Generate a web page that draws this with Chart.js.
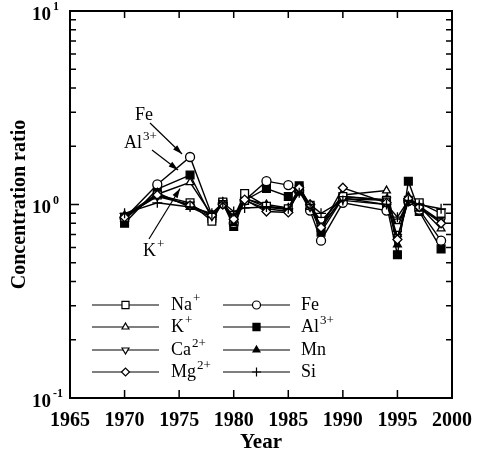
<!DOCTYPE html>
<html>
<head>
<meta charset="utf-8">
<script src="https://cdn.jsdelivr.net/npm/chart.js@4.4.1/dist/chart.umd.min.js"></script>
<style>
  html, body { margin: 0; padding: 0; background: #fff; }
  #wrap { width: 478px; height: 455px; }
</style>
</head>
<body>
<div id="wrap"><canvas id="chart" width="478" height="455"></canvas></div>
<script>
// sampling years
const years = [1970, 1973, 1976, 1978, 1979, 1980, 1981, 1983, 1985, 1986, 1987, 1988, 1990, 1994, 1995, 1996, 1997, 1999];

// concentration ratios
const na = [0.86, 1.12, 1.02, 0.82, 1.03, 0.85, 1.14, 0.98, 0.95, 1.20, 0.99, 0.82, 1.10, 1.05, 0.76, 1.05, 1.02, 0.90];
const k  = [0.88, 1.13, 1.30, 0.88, 1.02, 0.86, 1.08, 0.97, 0.94, 1.20, 0.98, 0.80, 1.12, 1.18, 0.70, 1.05, 0.98, 0.75];
const ca = [0.87, 1.10, 1.00, 0.87, 1.02, 0.84, 1.05, 0.95, 0.92, 1.18, 0.97, 0.78, 1.07, 1.05, 0.68, 1.04, 0.98, 0.82];
const mg = [0.86, 1.12, 0.99, 0.88, 1.00, 0.84, 1.06, 0.92, 0.91, 1.22, 1.00, 0.76, 1.22, 1.02, 0.66, 1.07, 0.97, 0.80];
const fe = [0.85, 1.27, 1.76, 0.88, 1.01, 0.80, 1.05, 1.32, 1.26, 1.18, 0.93, 0.65, 1.02, 0.93, 0.80, 1.04, 0.94, 0.65];
const al = [0.80, 1.20, 1.42, 0.85, 1.02, 0.77, 1.05, 1.21, 1.10, 1.25, 0.97, 0.72, 1.08, 1.00, 0.55, 1.32, 0.92, 0.59];
const mn = [0.84, 1.15, 0.97, 0.86, 1.03, 0.80, 1.07, 1.00, 0.96, 1.22, 0.98, 0.75, 1.10, 1.06, 0.62, 1.10, 0.95, 0.82];
const si = [0.90, 1.02, 0.97, 0.90, 1.02, 0.92, 0.96, 0.97, 0.95, 1.15, 1.00, 0.90, 1.05, 1.00, 0.86, 1.05, 1.00, 0.95];

// axis ticks
const xTicks = [1965, 1970, 1975, 1980, 1985, 1990, 1995, 2000];
const yDecades = [0.1, 1, 10];
const yExponents = ['-1', '0', '1'];

// legend names (base text + superscript)
const names = [['Na', '+'], ['K', '+'], ['Ca', '2+'], ['Mg', '2+'], ['Fe', ''], ['Al', '3+'], ['Mn', ''], ['Si', '']];

const SERIF = '"Liberation Serif", "DejaVu Serif", serif';

function series(values, style, filled, radius, rotation) {
    return {
        data: years.map((y, i) => ({ x: y, y: values[i] })),
        borderColor: '#000',
        borderWidth: 1.4,
        pointStyle: style,
        pointRadius: radius,
        pointRotation: rotation || 0,
        pointBackgroundColor: filled ? '#000' : '#fff',
        pointBorderColor: '#000',
        pointBorderWidth: 1.3,
        fill: false,
        tension: 0
    };
}

// order: Si first so the markers of others sit on top
const datasets = [
    series(si, 'cross', false, 5),
    series(mg, 'rectRot', false, 4.5),
    series(ca, 'triangle', false, 4.5, 180),
    series(na, 'rect', false, 5.5),
    series(k, 'triangle', false, 4.5),
    series(mn, 'triangle', true, 4.5),
    series(fe, 'circle', false, 4.5),
    series(al, 'rect', true, 5.5)
];
// legend order follows names
const legendSets = [datasets[3], datasets[4], datasets[2], datasets[1], datasets[6], datasets[7], datasets[5], datasets[0]];

// text with a superscript
function supText(ctx, x, y, base, sup, size, bold) {
    const w = bold ? 'bold ' : '';
    ctx.font = w + size + 'px ' + SERIF;
    ctx.textAlign = 'left';
    ctx.textBaseline = 'middle';
    ctx.fillText(base, x, y);
    const bw = ctx.measureText(base).width;
    if (sup) {
        ctx.font = w + Math.round(size * 0.7) + 'px ' + SERIF;
        ctx.fillText(sup, x + bw + 1, y - size * 0.38);
    }
}

function arrow(ctx, x1, y1, x2, y2) {
    const a = Math.atan2(y2 - y1, x2 - x1);
    ctx.beginPath();
    ctx.moveTo(x1, y1);
    ctx.lineTo(x2, y2);
    ctx.stroke();
    ctx.beginPath();
    ctx.moveTo(x2, y2);
    ctx.lineTo(x2 - 10 * Math.cos(a - 0.3), y2 - 10 * Math.sin(a - 0.3));
    ctx.lineTo(x2 - 10 * Math.cos(a + 0.3), y2 - 10 * Math.sin(a + 0.3));
    ctx.closePath();
    ctx.fill();
}

const framePlugin = {
    id: 'frame',
    afterDatasetsDraw(chart) {
        const ctx = chart.ctx;
        const { left, right, top, bottom } = chart.chartArea;
        const xs = chart.scales.x, ys = chart.scales.y;
        ctx.save();
        ctx.strokeStyle = '#000';
        ctx.fillStyle = '#000';

        // box
        ctx.lineWidth = 2;
        ctx.strokeRect(left, top, right - left, bottom - top);

        // x ticks, inward on top and bottom
        ctx.lineWidth = 1.5;
        xTicks.forEach(t => {
            const px = xs.getPixelForValue(t);
            if (px <= left + 1 || px >= right - 1) return;
            ctx.beginPath();
            ctx.moveTo(px, bottom); ctx.lineTo(px, bottom - 8);
            ctx.moveTo(px, top); ctx.lineTo(px, top + 7);
            ctx.stroke();
        });

        // y ticks, log minor ticks inward on both sides
        for (let d = 0; d < yDecades.length - 1; d++) {
            for (let m = 1; m < 10; m++) {
                const py = ys.getPixelForValue(yDecades[d] * m);
                const len = m === 1 ? 9 : 6;
                ctx.beginPath();
                ctx.moveTo(left, py); ctx.lineTo(left + len, py);
                ctx.moveTo(right, py); ctx.lineTo(right - len, py);
                ctx.stroke();
            }
        }

        // x tick labels
        ctx.font = 'bold 20px ' + SERIF;
        ctx.textAlign = 'center';
        ctx.textBaseline = 'middle';
        xTicks.forEach(t => ctx.fillText(String(t), xs.getPixelForValue(t), 421));

        // y tick labels 10^n
        yDecades.forEach((v, i) => {
            const py = ys.getPixelForValue(v);
            ctx.font = 'bold 19px ' + SERIF;
            ctx.textAlign = 'right';
            ctx.textBaseline = 'middle';
            ctx.fillText('10', 51, py + 4);
            ctx.font = 'bold 12px ' + SERIF;
            ctx.textAlign = 'left';
            ctx.fillText(yExponents[i], 53, py - 4);
        });

        // legend
        const rows = [305, 327, 350, 372];
        const cols = [{ x1: 92, x2: 159, tx: 171 }, { x1: 223, x2: 290, tx: 301 }];
        legendSets.forEach((ds, i) => {
            const c = cols[Math.floor(i / 4)];
            const y = rows[i % 4];
            ctx.lineWidth = 1.2;
            ctx.beginPath();
            ctx.moveTo(c.x1, y); ctx.lineTo(c.x2, y);
            ctx.stroke();
            ctx.fillStyle = ds.pointBackgroundColor;
            ctx.strokeStyle = '#000';
            Chart.helpers.drawPoint(ctx, {
                pointStyle: ds.pointStyle,
                radius: ds.pointRadius - 0.5,
                rotation: ds.pointRotation,
                borderWidth: 1.2
            }, (c.x1 + c.x2) / 2, y);
            ctx.fillStyle = '#000';
            supText(ctx, c.tx, y, names[i][0], names[i][1], 18, false);
        });

        // annotations with arrows to the 1976 points
        const px76 = xs.getPixelForValue(1976);
        const yFe = ys.getPixelForValue(fe[2]);
        const yAl = ys.getPixelForValue(al[2]);
        const yK = ys.getPixelForValue(k[2]);
        ctx.fillStyle = '#000';
        supText(ctx, 135, 115, 'Fe', '', 18, false);
        supText(ctx, 124, 143, 'Al', '3+', 18, false);
        supText(ctx, 143, 251, 'K', '+', 18, false);
        ctx.lineWidth = 1.2;
        arrow(ctx, 150, 123, px76 - 8, yFe - 3);
        arrow(ctx, 152, 150, px76 - 12, yAl - 5);
        arrow(ctx, 149, 239, px76 - 10, yK + 6);
        ctx.restore();
    }
};

new Chart(document.getElementById('chart'), {
    type: 'line',
    data: { datasets: datasets },
    options: {
        responsive: false,
        animation: false,
        layout: { padding: { top: 11, right: 26, left: 0, bottom: 0 } },
        scales: {
            x: {
                type: 'linear',
                min: 1965,
                max: 2000,
                grid: { display: false },
                border: { display: false },
                ticks: { display: false },
                title: {
                    display: true,
                    text: 'Year',
                    color: '#000',
                    font: { family: SERIF, size: 21, weight: 'bold' },
                    padding: { top: 0, bottom: 0 }
                },
                afterFit(scale) { scale.height = 57; }
            },
            y: {
                type: 'logarithmic',
                min: 0.1,
                max: 10,
                grid: { display: false },
                border: { display: false },
                ticks: { display: false },
                title: {
                    display: true,
                    text: 'Concentration ratio',
                    color: '#000',
                    font: { family: SERIF, size: 20, weight: 'bold' },
                    padding: { top: 8, bottom: 0 }
                },
                afterFit(scale) { scale.width = 70; }
            }
        },
        plugins: {
            legend: { display: false },
            tooltip: { enabled: false }
        }
    },
    plugins: [framePlugin]
});
</script>
</body>
</html>
